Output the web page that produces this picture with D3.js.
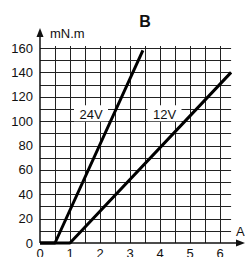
<!DOCTYPE html>
<html>
<head>
<meta charset="utf-8">
<script src="https://cdn.jsdelivr.net/npm/d3@7"></script>
<style>
  body { margin: 0; background: #fff; }
  text { font-family: "Liberation Sans", Arial, sans-serif; fill: #111; }
</style>
</head>
<body>
<div id="chart"></div>
<script>
// current (A) vs torque (mN.m) for the two supply voltages
const series_names = ["24V", "12V"];
const current_24v = [0, 0.5, 3.43];
const torque_24v = [0, 0, 158];
const current_12v = [0, 1, 6.37];
const torque_12v = [0, 0, 140];
const x_ticks = [0, 1, 2, 3, 4, 5, 6];
const y_ticks = [0, 20, 40, 60, 80, 100, 120, 140, 160];

const svgWidth = 245;
const svgHeight = 257;

const svg = d3.select("#chart")
  .append("svg")
  .attr("width", svgWidth)
  .attr("height", svgHeight);

const xScale = d3.scaleLinear().domain([0, 6]).range([40, 220]);
const yScale = d3.scaleLinear().domain([0, 160]).range([243, 48]);

// grid
const grid = svg.append("g").attr("stroke", "#222").attr("stroke-width", 1);
d3.range(0.5, 6.01, 0.5).forEach(v => {
  grid.append("line")
    .attr("x1", Math.round(xScale(v)) + 0.5).attr("x2", Math.round(xScale(v)) + 0.5)
    .attr("y1", yScale(0)).attr("y2", yScale(160) - 2);
});
d3.range(10, 161, 10).forEach(v => {
  grid.append("line")
    .attr("x1", xScale(0)).attr("x2", xScale(6.37))
    .attr("y1", Math.round(yScale(v)) + 0.5).attr("y2", Math.round(yScale(v)) + 0.5);
});

// axes with arrows
svg.append("line")
  .attr("x1", xScale(0)).attr("x2", 237)
  .attr("y1", yScale(0)).attr("y2", yScale(0))
  .attr("stroke", "#111").attr("stroke-width", 1.5);
svg.append("path")
  .attr("d", `M245,${yScale(0)} L236,${yScale(0) - 3.5} L236,${yScale(0) + 3.5} Z`)
  .attr("fill", "#111");
svg.append("line")
  .attr("x1", xScale(0)).attr("x2", xScale(0))
  .attr("y1", yScale(0)).attr("y2", 36)
  .attr("stroke", "#111").attr("stroke-width", 1.5);
svg.append("path")
  .attr("d", `M${xScale(0)},28 L${xScale(0) - 3.5},37 L${xScale(0) + 3.5},37 Z`)
  .attr("fill", "#111");

// series labels with white boxes
const labelPos = [{ x: 1.7, w: 34 }, { x: 4.15, w: 34 }];
series_names.forEach((name, i) => {
  const cx = xScale(labelPos[i].x);
  svg.append("rect")
    .attr("x", cx - labelPos[i].w / 2).attr("y", yScale(113))
    .attr("width", labelPos[i].w).attr("height", 16)
    .attr("fill", "#fff");
  svg.append("text")
    .attr("x", cx).attr("y", yScale(100) - 2.5)
    .attr("text-anchor", "middle")
    .attr("font-size", 13)
    .text(name);
});

// curves
const line = d3.line().x(d => xScale(d[0])).y(d => yScale(d[1]));
[[current_24v, torque_24v], [current_12v, torque_12v]].forEach(([xs, ys]) => {
  svg.append("path")
    .datum(xs.map((x, i) => [x, ys[i]]))
    .attr("d", line)
    .attr("fill", "none")
    .attr("stroke", "#000")
    .attr("stroke-width", 3)
    .attr("stroke-linejoin", "round");
});

// tick labels
svg.selectAll(".ylab")
  .data(y_ticks)
  .enter()
  .append("text")
  .attr("x", 33)
  .attr("y", d => yScale(d) + 4.5)
  .attr("text-anchor", "end")
  .attr("font-size", 13)
  .text(d => d);

svg.selectAll(".xlab")
  .data(x_ticks)
  .enter()
  .append("text")
  .attr("x", d => xScale(d))
  .attr("y", 258)
  .attr("text-anchor", "middle")
  .attr("font-size", 13)
  .text(d => d);

svg.append("text").attr("x", 50).attr("y", 38).attr("font-size", 13).text("mN.m");
svg.append("text").attr("x", 236).attr("y", 236).attr("font-size", 13).text("A");
svg.append("text").attr("x", 145).attr("y", 27)
  .attr("text-anchor", "middle").attr("font-size", 16).attr("font-weight", "bold").text("B");
</script>
</body>
</html>
